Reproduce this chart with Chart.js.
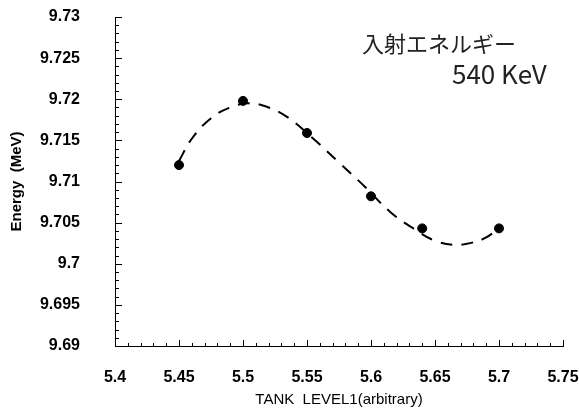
<!DOCTYPE html>
<html>
<head>
<meta charset="utf-8">
<script src="https://cdn.jsdelivr.net/npm/chart.js@4.4.1/dist/chart.umd.min.js"></script>
<style>
    html, body { margin: 0; padding: 0; background: #fff; }
    #wrap { width: 579px; height: 409px; position: relative; }
</style>
</head>
<body>
<div id="wrap"><canvas id="energyChart"></canvas></div>
<script>
// measured points (TANK LEVEL1 vs Energy)
const tankLevel = [5.45, 5.5, 5.55, 5.6, 5.64, 5.7];
const energy = [9.7120, 9.7198, 9.7159, 9.7082, 9.7043, 9.7043];

// dashed fit curve
const curveLevel = [5.45, 5.46, 5.475, 5.49, 5.505, 5.52, 5.535, 5.555, 5.575, 5.595, 5.615, 5.635, 5.65, 5.665, 5.68, 5.69, 5.7];
const curveEnergy = [9.7125, 9.7152, 9.7177, 9.7190, 9.7195, 9.7190, 9.7178, 9.7152, 9.7123, 9.7094, 9.7063, 9.7041, 9.7028, 9.7023, 9.7026, 9.7032, 9.7043];

const note1 = '入射エネルギー';
const note2 = '540 KeV';

const fontName = '"Liberation Sans", Arial, sans-serif';

function toPoints(xs, ys) {
    return xs.map((x, i) => ({ x: x, y: ys[i] }));
}

function fmt(v) {
    return String(parseFloat(v.toFixed(3)));
}

// inward ticks (major + minor), like the original plot
const innerTicks = {
    id: 'innerTicks',
    afterDraw(chart) {
        const ctx = chart.ctx;
        const xs = chart.scales.x;
        const ys = chart.scales.y;
        const area = chart.chartArea;
        ctx.save();
        ctx.strokeStyle = '#000';
        ctx.lineWidth = 1;
        ctx.beginPath();
        const ny = Math.round((ys.max - ys.min) / 0.001);
        for (let i = 0; i <= ny; i++) {
            const py = Math.round(ys.getPixelForValue(ys.min + i * 0.001)) + 0.5;
            const len = i % 5 === 0 ? 7 : 4;
            ctx.moveTo(area.left, py);
            ctx.lineTo(area.left + len, py);
        }
        const nx = Math.round((xs.max - xs.min) / 0.01);
        for (let i = 0; i <= nx; i++) {
            const px = Math.round(xs.getPixelForValue(xs.min + i * 0.01)) + 0.5;
            const len = i % 5 === 0 ? 6 : 3;
            ctx.moveTo(px, area.bottom);
            ctx.lineTo(px, area.bottom - len);
        }
        ctx.stroke();

        // handwritten note
        ctx.fillStyle = '#222';
        ctx.textBaseline = 'middle';
        ctx.font = '22px "Noto Sans CJK JP", sans-serif';
        ctx.fillText(note1, 362, 44);
        ctx.font = '26px "Noto Sans CJK JP", sans-serif';
        ctx.fillText(note2, 452, 74);
        ctx.restore();
    }
};

new Chart(document.getElementById('energyChart'), {
    type: 'scatter',
    data: {
        datasets: [
            {
                data: toPoints(curveLevel, curveEnergy),
                showLine: true,
                borderColor: '#000',
                borderWidth: 2,
                borderDash: [12, 9],
                tension: 0.4,
                pointRadius: 0
            },
            {
                data: toPoints(tankLevel, energy),
                backgroundColor: '#000',
                borderColor: '#000',
                pointRadius: 4.5,
                showLine: false
            }
        ]
    },
    options: {
        responsive: true,
        maintainAspectRatio: false,
        animation: false,
        layout: {
            padding: { top: 17, right: 16, bottom: 0, left: 0 }
        },
        plugins: {
            legend: { display: false },
            tooltip: { enabled: false }
        },
        scales: {
            x: {
                type: 'linear',
                min: 5.4,
                max: 5.75,
                // invisible tick marks used only as spacing for the labels
                grid: { display: true, drawOnChartArea: false, drawTicks: true, tickLength: 22, tickColor: 'rgba(0,0,0,0)' },
                border: { display: true, color: '#000', width: 1 },
                ticks: {
                    stepSize: 0.05,
                    padding: 0,
                    color: '#000',
                    maxRotation: 0,
                    font: { family: fontName, size: 16, weight: 'bold' },
                    callback: v => fmt(v)
                },
                title: {
                    display: true,
                    text: 'TANK  LEVEL1(arbitrary)',
                    color: '#000',
                    font: { family: fontName, size: 15 },
                    padding: { top: 0, bottom: 0 }
                },
                afterFit: scale => { scale.height = 63; }
            },
            y: {
                type: 'linear',
                min: 9.69,
                max: 9.73,
                grid: { display: true, drawOnChartArea: false, drawTicks: true, tickLength: 35, tickColor: 'rgba(0,0,0,0)' },
                border: { display: true, color: '#000', width: 1 },
                ticks: {
                    stepSize: 0.005,
                    padding: 0,
                    color: '#000',
                    font: { family: fontName, size: 16, weight: 'bold' },
                    callback: v => fmt(v)
                },
                title: {
                    display: true,
                    text: 'Energy  (MeV)',
                    color: '#000',
                    font: { family: fontName, size: 15, weight: 'bold' },
                    padding: { top: 8, bottom: 0 }
                },
                afterFit: scale => { scale.width = 115; }
            }
        }
    },
    plugins: [innerTicks]
});
</script>
</body>
</html>
